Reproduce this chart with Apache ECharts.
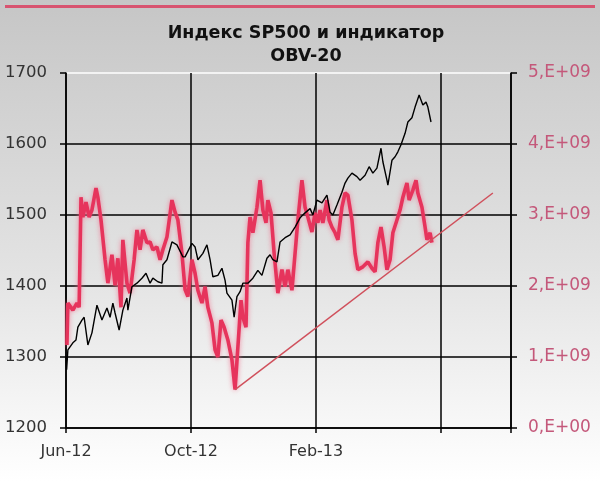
<!DOCTYPE html>
<html>
<head>
<meta charset="utf-8">
<script src="https://cdn.jsdelivr.net/npm/echarts@6/dist/echarts.min.js"></script>
<style>html,body{margin:0;padding:0;background:#fff}#c{width:600px;height:481px}</style>
</head>
<body>
<div id="c"></div>
<script>
// x positions are months since Jun-2012
const xTickLabels = {0: 'Jun-12', 4: 'Oct-12', 8: 'Feb-13', 12: ''};
const spMonths = [0.00,0.02,0.06,0.22,0.32,0.38,0.51,0.58,0.70,0.83,0.99,1.15,1.31,1.41,1.50,1.57,1.70,1.82,1.95,1.98,2.11,2.27,2.43,2.56,2.69,2.78,2.94,3.07,3.10,3.23,3.39,3.55,3.74,3.81,4.03,4.13,4.22,4.38,4.51,4.61,4.70,4.86,4.99,5.09,5.15,5.31,5.38,5.47,5.57,5.66,5.82,5.98,6.14,6.27,6.43,6.53,6.62,6.75,6.85,7.01,7.17,7.33,7.49,7.65,7.81,7.90,8.03,8.19,8.35,8.45,8.54,8.67,8.83,8.93,9.02,9.15,9.31,9.41,9.57,9.70,9.82,9.95,10.08,10.14,10.27,10.30,10.43,10.53,10.62,10.72,10.85,10.94,11.07,11.17,11.30,11.42,11.52,11.58,11.68];
const spValues = [1300,1282,1310,1320,1324,1342,1352,1356,1317,1334,1373,1352,1369,1356,1376,1362,1338,1366,1383,1366,1399,1404,1411,1418,1404,1411,1406,1404,1430,1437,1462,1458,1441,1441,1460,1455,1437,1446,1458,1437,1413,1415,1425,1408,1390,1380,1356,1385,1392,1404,1404,1411,1422,1415,1439,1444,1437,1434,1462,1468,1472,1483,1496,1503,1509,1500,1521,1517,1528,1504,1500,1514,1532,1545,1552,1559,1554,1549,1556,1568,1559,1566,1594,1575,1549,1542,1577,1582,1589,1599,1615,1631,1637,1652,1669,1655,1659,1652,1631];
const obvMonths = [0.03,0.06,0.22,0.35,0.42,0.48,0.54,0.64,0.74,0.83,0.96,1.02,1.12,1.25,1.34,1.47,1.57,1.66,1.76,1.82,1.95,2.05,2.18,2.27,2.37,2.46,2.59,2.69,2.78,2.91,3.01,3.10,3.23,3.39,3.49,3.58,3.71,3.81,3.90,4.03,4.13,4.22,4.35,4.45,4.54,4.67,4.77,4.86,4.96,5.06,5.18,5.31,5.41,5.50,5.60,5.66,5.76,5.82,5.89,5.98,6.11,6.21,6.30,6.40,6.46,6.56,6.66,6.78,6.91,7.01,7.10,7.23,7.33,7.42,7.55,7.65,7.74,7.87,7.97,8.06,8.13,8.22,8.35,8.42,8.51,8.61,8.70,8.83,8.93,9.02,9.15,9.25,9.34,9.50,9.66,9.79,9.89,9.98,10.08,10.18,10.27,10.37,10.46,10.59,10.69,10.78,10.91,10.98,11.10,11.20,11.26,11.39,11.49,11.55,11.65,11.71];
// OBV-20 in billions (E+09)
const obvValues = [1.17,1.76,1.66,1.76,1.70,3.25,2.97,3.18,2.97,3.07,3.38,3.25,2.93,2.37,2.04,2.44,2.01,2.39,1.70,2.65,2.04,1.90,2.37,2.79,2.51,2.79,2.61,2.62,2.51,2.55,2.37,2.51,2.69,3.21,3.04,2.93,2.46,1.95,1.85,2.37,2.18,1.94,1.76,1.99,1.70,1.48,1.10,1.00,1.52,1.42,1.24,0.96,0.54,1.14,1.80,1.56,1.42,2.61,2.97,2.75,3.11,3.49,3.07,2.89,3.21,3.03,2.46,1.90,2.23,1.99,2.23,1.94,2.46,2.93,3.49,3.11,2.97,2.76,3.03,2.89,3.07,2.89,3.21,2.93,2.83,2.75,2.65,3.11,3.31,3.28,2.93,2.46,2.23,2.27,2.34,2.25,2.20,2.61,2.83,2.55,2.23,2.37,2.75,2.93,3.07,3.25,3.45,3.21,3.35,3.49,3.31,3.11,2.83,2.65,2.75,2.61];
const trendMonths = [5.41, 13.66];
const trendValues = [0.54, 3.31];
const leftTicks = [1200, 1700, 100];
const rightTicks = [0, 5, 1];

const zip = (a, b) => a.map((v, i) => [v, b[i]]);
const chart = echarts.init(document.getElementById('c'));
const font = 'DejaVu Sans, Verdana, sans-serif';
chart.setOption({
  animation: false,
  backgroundColor: {type: 'linear', x: 0, y: 0, x2: 0, y2: 1, colorStops: [
    {offset: 0, color: '#c6c6c6'}, {offset: 0.55, color: '#e2e2e2'}, {offset: 1, color: '#ffffff'}]},
  graphic: [
    {type: 'rect', shape: {x: 5, y: 5, width: 590, height: 3}, style: {fill: '#d85470'}},
    {type: 'text', x: 306, y: 22, style: {text: 'Индекс SP500 и индикатор\nOBV-20', fill: '#111', font: 'bold 17.5px ' + font, align: 'center', lineHeight: 23}}
  ],
  grid: {left: 66, right: 89, top: 73, bottom: 53},
  xAxis: {type: 'value', min: 0, max: 14.24, interval: 4,
    axisLine: {show: true, onZero: false, lineStyle: {color: '#000', width: 1.5}},
    axisTick: {show: true, inside: false, length: 5, lineStyle: {color: '#000', width: 1.5}},
    splitLine: {show: true, lineStyle: {color: '#000', width: 1.5}},
    axisLabel: {margin: 16, color: '#333', fontSize: 16, fontFamily: font,
      formatter: v => (xTickLabels[v] !== undefined ? xTickLabels[v] : '')}
  },
  yAxis: [
    {type: 'value', min: leftTicks[0], max: leftTicks[1], interval: leftTicks[2], position: 'left',
      axisLine: {show: true, lineStyle: {color: '#000', width: 1.5}},
      axisTick: {show: true, inside: false, length: 6, lineStyle: {color: '#000', width: 1.5}},
      splitLine: {show: true, lineStyle: {color: ['#000', '#000', '#000', '#000', '#000', '#fff'], width: 1.5}},
      axisLabel: {margin: 19, color: '#333', fontSize: 16.5, fontFamily: font, formatter: v => String(v)}
    },
    {type: 'value', min: rightTicks[0], max: rightTicks[1], interval: rightTicks[2], position: 'right',
      axisLine: {show: true, lineStyle: {color: '#000', width: 1.5}},
      axisTick: {show: true, inside: false, length: 6, lineStyle: {color: '#000', width: 1.5}},
      splitLine: {show: false},
      axisLabel: {margin: 17, color: '#c4587a', fontSize: 17, fontFamily: font,
        formatter: v => (v === 0 ? '0,E+00' : v + ',E+09')}
    }
  ],
  series: [
    {name: 'OBV-20', type: 'line', yAxisIndex: 1, showSymbol: false, data: zip(obvMonths, obvValues),
      lineStyle: {color: '#e6345c', width: 3.6, shadowColor: 'rgba(240,110,140,0.8)', shadowBlur: 5}, z: 3},
    {name: 'SP500', type: 'line', yAxisIndex: 0, showSymbol: false, data: zip(spMonths, spValues),
      lineStyle: {color: '#000', width: 1.4}, z: 4},
    {name: 'trend', type: 'line', yAxisIndex: 1, showSymbol: false, data: zip(trendMonths, trendValues),
      lineStyle: {color: '#d0505c', width: 1.5}, z: 5}
  ]
});
</script>
</body>
</html>
